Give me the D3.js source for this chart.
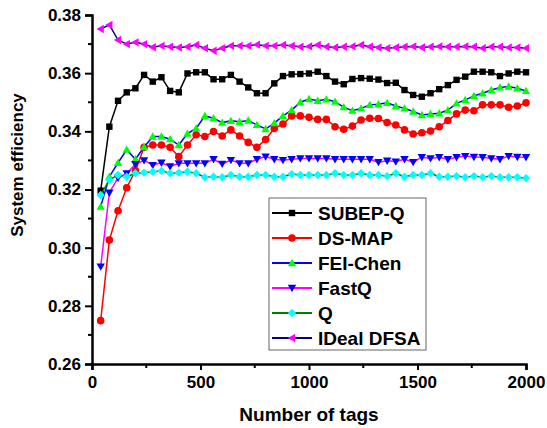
<!DOCTYPE html>
<html>
<head>
<meta charset="utf-8">
<script src="https://cdn.jsdelivr.net/npm/d3@7"></script>
<style>
  body { margin: 0; background: #fff; }
  svg { display: block; font-family: Arial, "Liberation Sans", sans-serif; }
</style>
</head>
<body>
<svg id="chart"></svg>
<script>
// tag counts 40..2000 step 40
const tags = [40, 80, 120, 160, 200, 240, 280, 320, 360, 400, 440, 480, 520, 560, 600, 640, 680, 720, 760, 800,
  840, 880, 920, 960, 1000, 1040, 1080, 1120, 1160, 1200, 1240, 1280, 1320, 1360, 1400, 1440, 1480, 1520, 1560, 1600,
  1640, 1680, 1720, 1760, 1800, 1840, 1880, 1920, 1960, 2000];

const subepQ = [0.3196, 0.3416, 0.3505, 0.3534, 0.3548, 0.3594, 0.3571, 0.3586, 0.3539, 0.3534,
  0.3599, 0.3603, 0.3603, 0.3579, 0.3579, 0.3594, 0.3571, 0.3551, 0.3531, 0.3531,
  0.3565, 0.3590, 0.3596, 0.3597, 0.3599, 0.3605, 0.3590, 0.3571, 0.3562, 0.3580,
  0.3583, 0.3581, 0.3578, 0.3566, 0.3567, 0.3542, 0.3525, 0.3519, 0.3531, 0.3545,
  0.3559, 0.3577, 0.3588, 0.3605, 0.3605, 0.3603, 0.3590, 0.3599, 0.3605, 0.3603];

const dsMap = [0.2749, 0.3026, 0.3127, 0.3206, 0.3265, 0.3345, 0.3353, 0.3353, 0.3345, 0.3313,
  0.3353, 0.3388, 0.3382, 0.3399, 0.3384, 0.3405, 0.3384, 0.3362, 0.3345, 0.3372,
  0.3410, 0.3425, 0.3453, 0.3453, 0.3448, 0.3441, 0.3441, 0.3416, 0.3407, 0.3418,
  0.3439, 0.3445, 0.3444, 0.3430, 0.3422, 0.3405, 0.3391, 0.3395, 0.3401, 0.3416,
  0.3437, 0.3460, 0.3473, 0.3471, 0.3491, 0.3491, 0.3491, 0.3483, 0.3487, 0.3498];

const feiChen = [0.3141, 0.3244, 0.3292, 0.3337, 0.3304, 0.3346, 0.3382, 0.3382, 0.3373, 0.3353,
  0.3392, 0.3410, 0.3453, 0.3445, 0.3430, 0.3436, 0.3433, 0.3437, 0.3422, 0.3408,
  0.3428, 0.3453, 0.3473, 0.3500, 0.3511, 0.3505, 0.3510, 0.3502, 0.3483, 0.3471,
  0.3479, 0.3491, 0.3493, 0.3498, 0.3487, 0.3479, 0.3468, 0.3456, 0.3460, 0.3462,
  0.3473, 0.3496, 0.3508, 0.3522, 0.3531, 0.3542, 0.3551, 0.3554, 0.3548, 0.3539];

const fastQ = [0.2935, 0.3189, 0.3240, 0.3255, 0.3287, 0.3300, 0.3284, 0.3292, 0.3279, 0.3290,
  0.3290, 0.3290, 0.3290, 0.3304, 0.3288, 0.3301, 0.3290, 0.3290, 0.3304, 0.3313,
  0.3304, 0.3301, 0.3304, 0.3307, 0.3307, 0.3307, 0.3307, 0.3304, 0.3304, 0.3304,
  0.3304, 0.3304, 0.3294, 0.3299, 0.3296, 0.3304, 0.3294, 0.3311, 0.3307, 0.3311,
  0.3304, 0.3311, 0.3315, 0.3312, 0.3311, 0.3307, 0.3304, 0.3315, 0.3312, 0.3311];

const qAlg = [0.3181, 0.3233, 0.3250, 0.3244, 0.3256, 0.3258, 0.3261, 0.3264, 0.3256, 0.3258,
  0.3261, 0.3256, 0.3242, 0.3244, 0.3242, 0.3250, 0.3244, 0.3244, 0.3250, 0.3250,
  0.3244, 0.3244, 0.3253, 0.3250, 0.3250, 0.3250, 0.3250, 0.3256, 0.3250, 0.3250,
  0.3256, 0.3250, 0.3250, 0.3246, 0.3256, 0.3244, 0.3250, 0.3250, 0.3256, 0.3244,
  0.3244, 0.3246, 0.3242, 0.3246, 0.3242, 0.3246, 0.3242, 0.3242, 0.3242, 0.3239];

const idealDfsa = [0.3752, 0.3766, 0.3714, 0.3700, 0.3706, 0.3700, 0.3689, 0.3694, 0.3691, 0.3688,
  0.3691, 0.3697, 0.3686, 0.3677, 0.3686, 0.3694, 0.3694, 0.3694, 0.3698, 0.3694,
  0.3694, 0.3697, 0.3694, 0.3691, 0.3692, 0.3697, 0.3691, 0.3688, 0.3691, 0.3692,
  0.3697, 0.3691, 0.3688, 0.3686, 0.3688, 0.3691, 0.3692, 0.3688, 0.3691, 0.3692,
  0.3691, 0.3691, 0.3692, 0.3691, 0.3686, 0.3691, 0.3691, 0.3688, 0.3688, 0.3686];

const seriesNames = ['SUBEP-Q', 'DS-MAP', 'FEI-Chen', 'FastQ', 'Q', 'IDeal DFSA'];
const seriesValues = [subepQ, dsMap, feiChen, fastQ, qAlg, idealDfsa];
const lineColors = ['#000000', '#ff0000', '#0000ff', '#ff00ff', '#008000', '#000080'];
const markerColors = ['#000000', '#ff0000', '#00ff00', '#0000ff', '#00ffff', '#ff00ff'];
const markerShapes = ['square', 'circle', 'up', 'down', 'diamond', 'left'];

const xTicks = [0, 500, 1000, 1500, 2000];
const xMinor = [250, 750, 1250, 1750];
const yTicks = [0.26, 0.28, 0.30, 0.32, 0.34, 0.36, 0.38];
const yMinor = [0.27, 0.29, 0.31, 0.33, 0.35, 0.37];

const W = 547, H = 428;
const m = { left: 92, right: 21, top: 15, bottom: 64 };

const svg = d3.select('#chart').attr('width', W).attr('height', H);

const x = d3.scaleLinear().domain([0, 2000]).range([m.left, W - m.right]);
const y = d3.scaleLinear().domain([0.26, 0.38]).range([H - m.bottom, m.top]);

// marker path around (0,0)
const markerPath = (shape) => {
  const s = 4.2;
  if (shape === 'square') return 'M-3.2,-3.2H3.2V3.2H-3.2Z';
  if (shape === 'up') return `M0,${-s}L${s},${s * 0.75}L${-s},${s * 0.75}Z`;
  if (shape === 'down') return `M0,${s}L${s},${-s * 0.75}L${-s},${-s * 0.75}Z`;
  if (shape === 'left') return `M${-s},0L${s * 0.75},${-s}L${s * 0.75},${s}Z`;
  if (shape === 'diamond') return `M0,${-s}L${s},0L0,${s}L${-s},0Z`;
  return null;
};

const drawMarker = (g, shape, color) => {
  if (shape === 'circle') {
    g.append('circle').attr('r', 3.8).attr('fill', color);
  } else {
    g.append('path').attr('d', markerPath(shape)).attr('fill', color);
  }
};

// series
const line = d3.line().x((d) => x(d[0])).y((d) => y(d[1]));
seriesValues.forEach((vals, k) => {
  const pts = tags.map((t, i) => [t, vals[i]]);
  const g = svg.append('g').attr('class', 'series');
  g.append('path')
    .datum(pts)
    .attr('d', line)
    .attr('fill', 'none')
    .attr('stroke', lineColors[k])
    .attr('stroke-width', 1.5);
  g.selectAll('g.pt')
    .data(pts)
    .join('g')
    .attr('class', 'pt')
    .attr('transform', (d) => `translate(${x(d[0])},${y(d[1])})`)
    .each(function (d) { drawMarker(d3.select(this), markerShapes[k], markerColors[k]); });
});

// axes
const xAxis = svg.append('g')
  .attr('transform', `translate(0,${y(0.26)})`)
  .call(d3.axisBottom(x).tickValues(xTicks).tickSize(6).tickPadding(6).tickFormat(d3.format('d')));
xAxis.append('g').selectAll('line')
  .data(xMinor).join('line')
  .attr('x1', (d) => x(d)).attr('x2', (d) => x(d))
  .attr('y1', 0).attr('y2', 4)
  .attr('stroke', '#000').attr('stroke-width', 2);

const yAxis = svg.append('g')
  .attr('transform', `translate(${x(0)},0)`)
  .call(d3.axisLeft(y).tickValues(yTicks).tickSize(7).tickPadding(4).tickFormat(d3.format('.2f')));
yAxis.append('g').selectAll('line')
  .data(yMinor).join('line')
  .attr('y1', (d) => y(d)).attr('y2', (d) => y(d))
  .attr('x1', 0).attr('x2', -4)
  .attr('stroke', '#000').attr('stroke-width', 2);

[xAxis, yAxis].forEach((a) => {
  a.select('.domain').attr('stroke', '#000').attr('stroke-width', 2.5);
  a.selectAll('.tick line').attr('stroke', '#000').attr('stroke-width', 2);
  a.selectAll('.tick text')
    .attr('fill', '#000')
    .style('font-size', '17px')
    .style('font-weight', 'bold')
    .style('font-family', 'Arial, "Liberation Sans", sans-serif');
});

// axis titles
svg.append('text')
  .attr('x', (x(0) + x(2000)) / 2)
  .attr('y', 421)
  .attr('text-anchor', 'middle')
  .style('font-size', '19px')
  .style('font-weight', 'bold')
  .text('Number of tags');

svg.append('text')
  .attr('transform', 'translate(23,165) rotate(-90)')
  .attr('text-anchor', 'middle')
  .style('font-size', '17px')
  .style('font-weight', 'bold')
  .text('System efficiency');

// legend
const lg = svg.append('g').attr('transform', 'translate(269,198)');
lg.append('rect')
  .attr('width', 157).attr('height', 152)
  .attr('fill', '#fff').attr('stroke', '#666').attr('stroke-width', 1);
seriesNames.forEach((name, k) => {
  const row = lg.append('g').attr('transform', `translate(0,${15 + k * 25})`);
  row.append('line')
    .attr('x1', 3).attr('x2', 43).attr('y1', 0).attr('y2', 0)
    .attr('stroke', lineColors[k]).attr('stroke-width', 2);
  drawMarker(row.append('g').attr('transform', 'translate(23,0)'), markerShapes[k], markerColors[k]);
  row.append('text')
    .attr('x', 49).attr('y', 7)
    .style('font-size', '19px')
    .style('font-weight', 'bold')
    .text(name);
});
</script>
</body>
</html>
